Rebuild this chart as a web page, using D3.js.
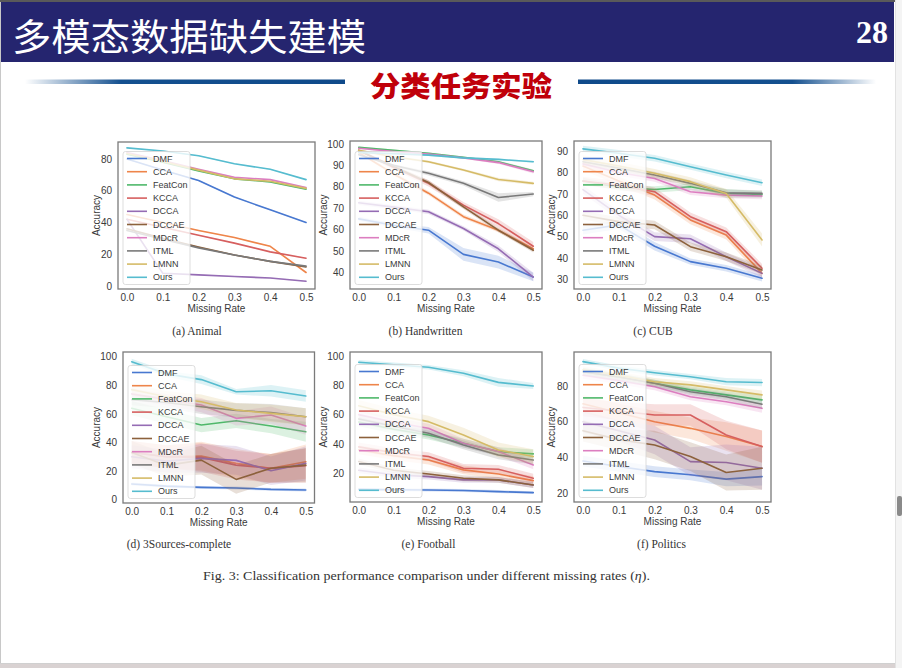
<!DOCTYPE html>
<html><head><meta charset="utf-8">
<script src="https://cdn.jsdelivr.net/npm/d3@7"></script>
<style>
html,body{margin:0;padding:0;background:#f4f4f4;}
svg{display:block;}
</style></head>
<body>
<svg id="c" width="902" height="668"></svg>
<script>
// ---------- data ----------
const methods = ["DMF","CCA","FeatCon","KCCA","DCCA","DCCAE","MDcR","ITML","LMNN","Ours"];
const methodColors = ["#4878d0","#ee854a","#4fb86a","#d65f5f","#956cb4","#8c613c","#dc7ec0","#797979","#d5bb67","#56bccf"];
const missingRates = [0, 0.1, 0.2, 0.3, 0.4, 0.5];
const xTickLabels = ["0.0","0.1","0.2","0.3","0.4","0.5"];
const panelTitles = ["(a)  Animal","(b)  Handwritten","(c)  CUB","(d)  3Sources-complete","(e)  Football","(f)  Politics"];

const animalAcc = [
  [80, 73, 66.5, 56, 48, 40],
  [45, 40, 35, 30.5, 25, 8.5],
  [83, 78, 72.5, 67.5, 65.5, 61],
  [42, 37, 32, 27, 21.5, 17.5],
  [42, 8, 7, 6, 5, 3],
  [36, 30, 24.5, 19.5, 15.5, 12],
  [84, 79, 73.5, 68.5, 67, 62],
  [35, 29.5, 24, 19.5, 15.5, 12.5],
  [83.5, 78.5, 73, 67.5, 66, 61.5],
  [87, 85, 82, 77, 73.5, 67]
];
const animalStd = [
  [0.3,0.3,0.3,0.3,0.3,0.3],[0.3,0.3,0.3,0.3,0.3,0.3],[0.3,0.3,0.3,0.3,0.3,0.3],[0.3,0.3,0.3,0.3,0.3,0.3],[0.3,0.3,0.3,0.3,0.3,0.3],
  [0.3,0.3,0.3,0.3,0.3,0.3],[0.3,0.3,0.3,0.3,0.3,0.3],[0.3,0.3,0.3,0.3,0.3,0.3],[0.3,0.3,0.3,0.3,0.3,0.3],[0.3,0.3,0.3,0.3,0.3,0.3]
];
const handwrittenAcc = [
  [65, 62, 59.7, 48.4, 44.8, 37.8],
  [96, 86, 77, 66, 59.7, 51],
  [98.4, 97, 95.6, 93.8, 91.7, 87.5],
  [97, 89, 81.6, 71.4, 62.8, 52.2],
  [72.5, 70.5, 68.3, 60.5, 51, 37.8],
  [97, 89.5, 82, 70.6, 59.7, 50.3],
  [98, 96.5, 95.3, 93.5, 91.3, 87],
  [95, 90, 86.3, 81.6, 75, 76.6],
  [97, 94, 91.7, 87.8, 83.4, 81.6],
  [96, 95.5, 94.8, 93.5, 92.8, 91.7]
];
const handwrittenStd = [
  [1, 1, 1.5, 3, 3, 2],
  [0.5, 0.8, 1, 1, 1, 1],
  [0.4, 0.4, 0.4, 0.4, 0.5, 0.6],
  [0.5, 1, 1.5, 1.5, 2, 2],
  [1, 1, 1, 1, 1.5, 2],
  [0.5, 0.8, 1, 1, 1, 1],
  [0.4, 0.4, 0.4, 0.4, 0.6, 0.8],
  [0.5, 0.5, 1, 1, 2, 1],
  [0.5, 0.5, 0.6, 0.6, 0.8, 0.8],
  [0.3, 0.3, 0.4, 0.4, 0.4, 0.5]
];
const cubAcc = [
  [53, 55.5, 45.5, 38.3, 35.2, 30.5],
  [83, 76, 69.4, 57.8, 50.7, 32.8],
  [76, 73, 72, 73.3, 70.2, 69.7],
  [76, 74, 71, 59.3, 52.3, 35.2],
  [72, 60, 50, 49, 40.6, 32.8],
  [60, 57, 55.4, 45.3, 40.6, 34.4],
  [84, 80, 77.2, 71, 69.4, 69],
  [85, 82, 78.8, 74.9, 70.5, 70.2],
  [86, 83, 79.6, 75.7, 70.2, 48.4],
  [91, 89, 86.6, 82.7, 78.8, 75.2]
];
const cubStd = [
  [2, 2, 2, 1.5, 1.5, 1.5],
  [2, 2, 2, 2, 2, 2],
  [1.5, 1.5, 1.5, 1.5, 2, 1.5],
  [2, 2, 2, 2, 2, 2],
  [2, 2, 2, 2, 2, 2],
  [2, 2, 2, 2, 2, 2],
  [1.5, 1.5, 1.5, 1.5, 1.5, 1.5],
  [1.5, 1.5, 1.5, 1.5, 1.5, 1.5],
  [2, 2, 2, 2, 2, 3],
  [1.5, 1.5, 1.5, 1.5, 1.5, 1.5]
];
const threeSourcesAcc = [
  [11, 9.5, 8.6, 8.2, 7.2, 6.8],
  [33, 30, 30.5, 25.4, 21.9, 26.6],
  [64, 58, 52.2, 55.2, 51.5, 47.5],
  [33, 30, 29.6, 24.2, 21.9, 23.8],
  [30, 27, 28.9, 27.5, 20.3, 25.4],
  [33, 24, 27.7, 14.2, 22, 24.2],
  [74, 70, 66.2, 56.9, 59.2, 51.5],
  [70, 68, 65, 62.5, 61, 58],
  [77, 72, 68.5, 62.7, 60.4, 58],
  [96.5, 88, 84, 75.5, 76.2, 72.5]
];
const threeSourcesStd = [
  [1, 1, 1, 1, 1, 1],
  [8, 8, 10, 10, 10, 12],
  [5, 5, 5, 5, 5, 7],
  [8, 8, 10, 10, 10, 12],
  [8, 8, 10, 10, 10, 12],
  [8, 8, 10, 10, 10, 12],
  [4, 4, 5, 5, 6, 6],
  [4, 4, 5, 5, 6, 6],
  [4, 4, 5, 5, 6, 6],
  [2, 2, 3, 2, 4, 4]
];
const footballAcc = [
  [9, 8.8, 8.6, 8.2, 7.5, 6.8],
  [36, 32, 29, 22.3, 19.5, 15],
  [55, 50, 46.1, 40.5, 34.8, 33.2],
  [38, 34, 31.4, 23.4, 22.7, 16.6],
  [22, 19, 17.7, 15.5, 15.5, 12],
  [28, 22, 19.5, 16.6, 15.5, 12],
  [60, 55, 50.7, 40.5, 34.8, 25.7],
  [57, 52, 47.3, 39.3, 32.5, 29],
  [66, 60, 55.2, 46.1, 35.9, 31.4],
  [95.7, 94, 92.3, 88.2, 82, 79.5]
];
const footballStd = [
  [1, 1, 1, 1, 1, 1],
  [3, 3, 3, 3, 3, 3],
  [3, 3, 3, 3, 3, 3],
  [3, 3, 3, 3, 3, 3],
  [2, 2, 2, 2, 2, 2],
  [2, 2, 2, 2, 2, 2],
  [3, 3, 3, 3, 3, 3],
  [3, 3, 3, 3, 3, 3],
  [4, 4, 4, 5, 5, 5],
  [1.5, 1.5, 1.5, 2, 3, 2]
];
const politicsAcc = [
  [38, 35, 32.1, 30.3, 27.9, 29.3],
  [70, 65, 60, 56.3, 51.7, 46.1],
  [88, 85, 81.5, 77.8, 75, 72.2],
  [68, 66, 63.8, 63.8, 52.6, 46.1],
  [60, 55, 49.8, 37.7, 37.2, 34],
  [55, 50, 47, 40.5, 31.6, 34],
  [86, 83, 79.6, 74, 71.2, 67.5],
  [88, 85, 81.5, 76.8, 74, 69.8],
  [89, 86, 82.4, 80.6, 77.8, 75],
  [93.6, 90, 87.4, 85.2, 82.4, 81.9]
];
const politicsStd = [
  [3, 3, 3, 3, 4, 5],
  [5, 5, 6, 6, 8, 9],
  [2, 2, 2, 2, 2, 2.5],
  [5, 5, 6, 6, 8, 9],
  [6, 6, 8, 8, 10, 12],
  [6, 6, 8, 8, 10, 12],
  [2, 2, 2, 2, 2, 2.5],
  [2, 2, 2, 2, 2, 2.5],
  [2, 2, 2, 2, 2, 2.5],
  [1.5, 1.5, 1.5, 1.5, 2, 2]
];
const animalTicks = [0, 20, 40, 60, 80];
const handwrittenTicks = [40, 50, 60, 70, 80, 90, 100];
const cubTicks = [30, 40, 50, 60, 70, 80, 90];
const threeSourcesTicks = [0, 20, 40, 60, 80, 100];
const footballTicks = [20, 40, 60, 80, 100];
const politicsTicks = [20, 40, 60, 80];

// ---------- layout ----------
const panels = [
  {acc: animalAcc, std: animalStd, ticks: animalTicks, x0:118, x1:315, y0:142, y1:289, dom:[-1.9, 90.7], capX:197, capY:331, labX:96},
  {acc: handwrittenAcc, std: handwrittenStd, ticks: handwrittenTicks, x0:350, x1:542, y0:141, y1:289, dom:[32.2, 101.4], capX:425.5, capY:331, labX:323},
  {acc: cubAcc, std: cubStd, ticks: cubTicks, x0:574, x1:771, y0:141, y1:289, dom:[25.5, 94.7], capX:653, capY:331, labX:551},
  {acc: threeSourcesAcc, std: threeSourcesStd, ticks: threeSourcesTicks, x0:123, x1:314.5, y0:352, y1:503, dom:[-2.3, 103.3], capX:179, capY:544, labX:96},
  {acc: footballAcc, std: footballStd, ticks: footballTicks, x0:350, x1:542, y0:352, y1:502, dom:[0.4, 102.7], capX:428.5, capY:544, labX:323},
  {acc: politicsAcc, std: politicsStd, ticks: politicsTicks, x0:574, x1:771, y0:352, y1:502, dom:[15.1, 99], capX:661.5, capY:544, labX:551}
];

const svg = d3.select("#c");
const defs = svg.append("defs");

// page background pieces
svg.append("rect").attr("x",0).attr("y",0).attr("width",902).attr("height",668).attr("fill","#f4f4f4");
svg.append("rect").attr("x",0).attr("y",664).attr("width",895).attr("height",4).attr("fill","#d9d2d2");
svg.append("rect").attr("x",0).attr("y",0).attr("width",895).attr("height",664).attr("fill","#ffffff");
svg.append("line").attr("x1",0.5).attr("x2",0.5).attr("y1",0).attr("y2",664).attr("stroke","#c8c8c8");
svg.append("line").attr("x1",0).attr("x2",895).attr("y1",663.5).attr("y2",663.5).attr("stroke","#d0d0d0");
svg.append("line").attr("x1",895.5).attr("x2",895.5).attr("y1",0).attr("y2",668).attr("stroke","#e2e2e2");
svg.append("rect").attr("x",897).attr("y",496).attr("width",5).attr("height",20).attr("rx",2).attr("fill","#8a8a8a");

// header
svg.append("rect").attr("x",0).attr("y",0).attr("width",895).attr("height",2).attr("fill","#5a5a5a");
svg.append("rect").attr("x",1).attr("y",2).attr("width",893).attr("height",60).attr("fill","#25256f");
svg.append("text").attr("x",12).attr("y",51).attr("fill","#ffffff")
  .attr("font-family","'Noto Sans CJK SC','Noto Sans',sans-serif").attr("font-size",37)
  .attr("textLength",354).attr("lengthAdjust","spacingAndGlyphs")
  .text("多模态数据缺失建模");
svg.append("text").attr("x",888).attr("y",43).attr("text-anchor","end").attr("fill","#ffffff")
  .attr("font-family","'Liberation Serif','DejaVu Serif',serif").attr("font-weight","bold").attr("font-size",32)
  .text("28");

// divider lines
const gL = defs.append("linearGradient").attr("id","gL").attr("x1","0").attr("x2","1").attr("y1","0").attr("y2","0");
gL.append("stop").attr("offset","0").attr("stop-color","#ffffff");
gL.append("stop").attr("offset","0.3").attr("stop-color","#14508f");
gL.append("stop").attr("offset","1").attr("stop-color","#0f4a8a");
const gR = defs.append("linearGradient").attr("id","gR").attr("x1","0").attr("x2","1").attr("y1","0").attr("y2","0");
gR.append("stop").attr("offset","0").attr("stop-color","#0f4a8a");
gR.append("stop").attr("offset","0.72").attr("stop-color","#14508f");
gR.append("stop").attr("offset","1").attr("stop-color","#ffffff");
svg.append("rect").attr("x",25).attr("y",79.5).attr("width",320).attr("height",4.5).attr("fill","url(#gL)");
svg.append("rect").attr("x",578).attr("y",79.5).attr("width",298).attr("height",4.5).attr("fill","url(#gR)");
svg.append("text").attr("x",370).attr("y",97).attr("fill","#c0000a")
  .attr("font-family","'Noto Sans CJK SC',sans-serif").attr("font-weight",900).attr("font-size",28)
  .attr("textLength",182).attr("lengthAdjust","spacingAndGlyphs")
  .text("分类任务实验");

// ---------- panels ----------
const sans = "'Liberation Sans',Arial,sans-serif";
const serif = "'Liberation Serif','Times New Roman',serif";

panels.forEach((p, pi) => {
  const x = d3.scaleLinear().domain([-0.025, 0.525]).range([p.x0, p.x1]);
  const y = d3.scaleLinear().domain(p.dom).range([p.y1, p.y0]);
  const g = svg.append("g");
  const cid = "clip" + pi;
  defs.append("clipPath").attr("id", cid).append("rect")
    .attr("x", p.x0).attr("y", p.y0).attr("width", p.x1 - p.x0).attr("height", p.y1 - p.y0);

  const plot = g.append("g").attr("clip-path", `url(#${cid})`);
  const area = d3.area().x((d,i) => x(missingRates[i])).y0(d => y(d[0] - d[1])).y1(d => y(d[0] + d[1]));
  const line = d3.line().x((d,i) => x(missingRates[i])).y(d => y(d));

  methods.forEach((m, mi) => {
    const vals = p.acc[mi];
    const sd = p.std[mi];
    plot.append("path").datum(vals.map((v,i) => [v, sd[i]]))
      .attr("d", area).attr("fill", methodColors[mi]).attr("fill-opacity", 0.2).attr("stroke","none");
    plot.append("path").datum(vals).attr("d", line)
      .attr("fill","none").attr("stroke", methodColors[mi]).attr("stroke-width", 1.6)
      .attr("stroke-linejoin","round").attr("stroke-linecap","round");
  });

  // axes (no tick marks, seaborn white style)
  const xAxis = d3.axisBottom(x).tickValues(missingRates).tickFormat((d,i) => xTickLabels[i]).tickSize(0).tickPadding(5);
  const xg = g.append("g").attr("transform", `translate(0,${p.y1})`).call(xAxis);
  xg.select(".domain").remove();
  xg.selectAll("text").attr("font-family", sans).attr("font-size", 10).attr("fill","#3a3a3a");

  const yAxis = d3.axisLeft(y).tickValues(p.ticks).tickFormat(d3.format("d")).tickSize(0).tickPadding(6);
  const yg = g.append("g").attr("transform", `translate(${p.x0},0)`).call(yAxis);
  yg.select(".domain").remove();
  yg.selectAll("text").attr("font-family", sans).attr("font-size", 10).attr("fill","#3a3a3a");

  // frame
  g.append("rect").attr("x", p.x0).attr("y", p.y0).attr("width", p.x1 - p.x0).attr("height", p.y1 - p.y0)
    .attr("fill","none").attr("stroke","#7a7a7a").attr("stroke-width",1.3);

  // axis labels
  g.append("text").attr("x", (p.x0 + p.x1) / 2).attr("y", p.y1 + 23).attr("text-anchor","middle")
    .attr("font-family", sans).attr("font-size", 10).attr("fill","#3a3a3a").text("Missing Rate");
  g.append("text").attr("transform", `translate(${p.labX},${(p.y0 + p.y1) / 2}) rotate(-90)`)
    .attr("text-anchor","middle").attr("dy","0.35em")
    .attr("font-family", sans).attr("font-size", 10).attr("fill","#3a3a3a").text("Accuracy");

  // legend
  const lx = p.x0 + 5, lh = 133, ly = p.y1 - 4.5 - lh;
  const lg = g.append("g");
  lg.append("rect").attr("x", lx).attr("y", ly).attr("width", 67).attr("height", lh).attr("rx", 2.5)
    .attr("fill","#ffffff").attr("fill-opacity",0.8).attr("stroke","#d4d4d4").attr("stroke-width",0.8);
  methods.forEach((m, mi) => {
    const yy = ly + 7 + mi * 13.2;
    lg.append("line").attr("x1", lx + 4).attr("x2", lx + 24).attr("y1", yy).attr("y2", yy)
      .attr("stroke", methodColors[mi]).attr("stroke-width", 1.6);
    lg.append("text").attr("x", lx + 30).attr("y", yy).attr("dy","0.35em")
      .attr("font-family", sans).attr("font-size", 9).attr("fill","#3a3a3a").text(m);
  });

  // caption
  g.append("text").attr("x", p.capX).attr("y", p.capY).attr("text-anchor","middle").attr("dy","0.35em")
    .attr("font-family", serif).attr("font-size", 11.5).attr("fill","#333").text(panelTitles[pi]);
});

// figure caption
const fc = svg.append("text").attr("x", 203).attr("y", 580)
  .attr("font-family", serif).attr("font-size", 13.5).attr("fill","#333")
  .attr("textLength", 447).attr("lengthAdjust","spacingAndGlyphs");
fc.append("tspan").text("Fig. 3: Classification performance comparison under different missing rates (");
fc.append("tspan").attr("font-style","italic").text("η");
fc.append("tspan").text(").");
</script>
</body></html>
